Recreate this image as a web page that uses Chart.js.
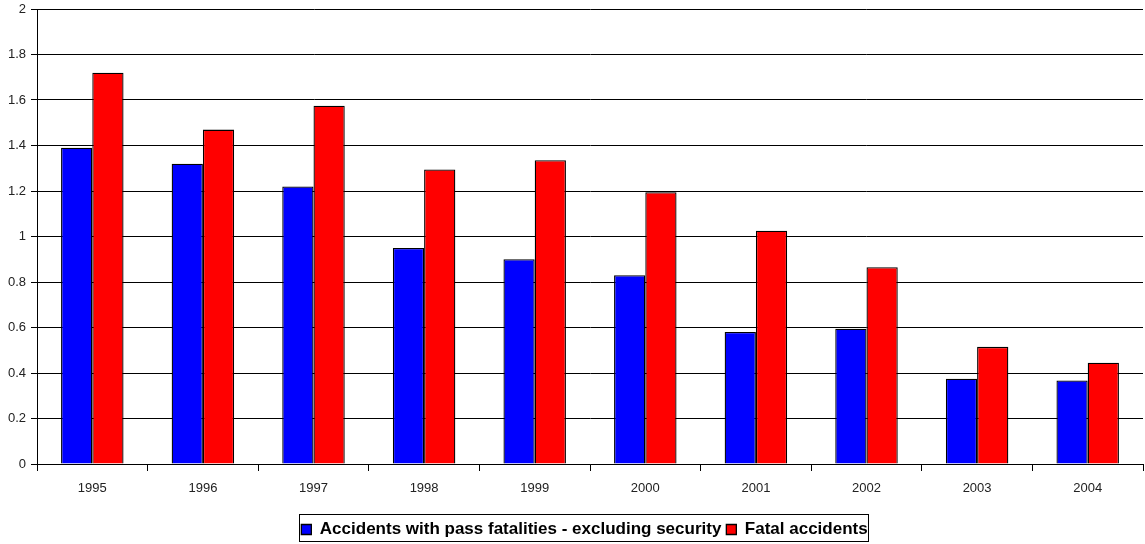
<!DOCTYPE html>
<html>
<head>
<meta charset="utf-8">
<script src="https://cdn.jsdelivr.net/npm/chart.js@4/dist/chart.umd.min.js"></script>
<style>
  html, body { margin: 0; padding: 0; background: #fff; }
  #wrap { width: 1145px; height: 544px; }
</style>
</head>
<body>
<div id="wrap"><canvas id="accChart"></canvas></div>
<script>
const years = ['1995', '1996', '1997', '1998', '1999', '2000', '2001', '2002', '2003', '2004'];
const passFatalAccidents = [1.39, 1.32, 1.22, 0.95, 0.90, 0.83, 0.58, 0.595, 0.375, 0.367];
const fatalAccidents = [1.72, 1.47, 1.575, 1.295, 1.335, 1.195, 1.025, 0.865, 0.515, 0.445];

const axisFont = { family: 'Liberation Sans, Arial, sans-serif', size: 13 };

// outline around the legend items, like an old spreadsheet legend
const legendFrame = {
    id: 'legendFrame',
    afterLayout(chart) {
        // move the legend a little right and down, under the plot's centre
        const lg = chart.legend;
        if (!lg || !lg.legendHitBoxes) return;
        const dx = 13, dy = 4;
        const tops = lg.legendHitBoxes.map(h => h.top);
        lg.left += dx;
        lg.right += dx;
        lg.top += dy;
        lg.bottom += dy;
        lg.adjustHitBoxes();
        lg.legendHitBoxes.forEach((h, i) => { h.top = tops[i] + dy; });
    },
    afterDraw(chart) {
        const boxes = chart.legend && chart.legend.legendHitBoxes;
        if (!boxes || !boxes.length) return;
        const first = boxes[0], last = boxes[boxes.length - 1];
        const x1 = first.left - 2, x2 = last.left + last.width + 1;
        const y1 = first.top - 11, y2 = first.top + 16;
        const c = chart.ctx;
        c.save();
        c.strokeStyle = '#000';
        c.lineWidth = 1;
        c.strokeRect(Math.round(x1) + 0.5, Math.round(y1) + 0.5, Math.round(x2 - x1), Math.round(y2 - y1));
        c.restore();
    }
};

const ctx = document.getElementById('accChart').getContext('2d');
const chart = new Chart(ctx, {
    type: 'bar',
    data: {
        labels: years,
        datasets: [{
            label: 'Accidents with pass fatalities - excluding security',
            data: passFatalAccidents,
            backgroundColor: '#0000ff',
            borderColor: '#000',
            borderWidth: 1.3
        }, {
            label: 'Fatal accidents',
            data: fatalAccidents,
            backgroundColor: '#ff0000',
            borderColor: '#000',
            borderWidth: 1.3
        }]
    },
    options: {
        responsive: true,
        maintainAspectRatio: false,
        animation: false,
        datasets: {
            bar: { categoryPercentage: 0.565, barPercentage: 1 }
        },
        layout: { padding: { top: 9, right: 2, left: 0, bottom: 0 } },
        plugins: {
            tooltip: { enabled: false },
            legend: {
                position: 'bottom',
                labels: {
                    color: '#000',
                    font: { family: 'Liberation Sans, Arial, sans-serif', size: 17, weight: 'bold' },
                    boxWidth: 10,
                    boxHeight: 10,
                    padding: 5
                }
            }
        },
        scales: {
            x: {
                grid: {
                    offset: true,
                    drawOnChartArea: false,
                    drawTicks: true,
                    tickLength: 7,
                    color: '#000'
                },
                border: { display: true, color: '#000', width: 1 },
                ticks: { color: '#222', font: axisFont, padding: 10, maxRotation: 0 },
                afterFit(scale) { scale.height = 48; }
            },
            y: {
                min: 0,
                max: 2,
                ticks: {
                    stepSize: 0.2,
                    color: '#222',
                    font: axisFont,
                    padding: 5,
                    callback: v => String(Math.round(v * 10) / 10)
                },
                grid: { color: '#000', lineWidth: 1, tickLength: 6 },
                border: { display: true, color: '#000', width: 1 },
                afterFit(scale) {
                    scale.width = 37;
                    scale.paddingTop = 0;
                    scale.paddingBottom = 0;
                }
            }
        }
    },
    plugins: [legendFrame]
});
</script>
</body>
</html>
